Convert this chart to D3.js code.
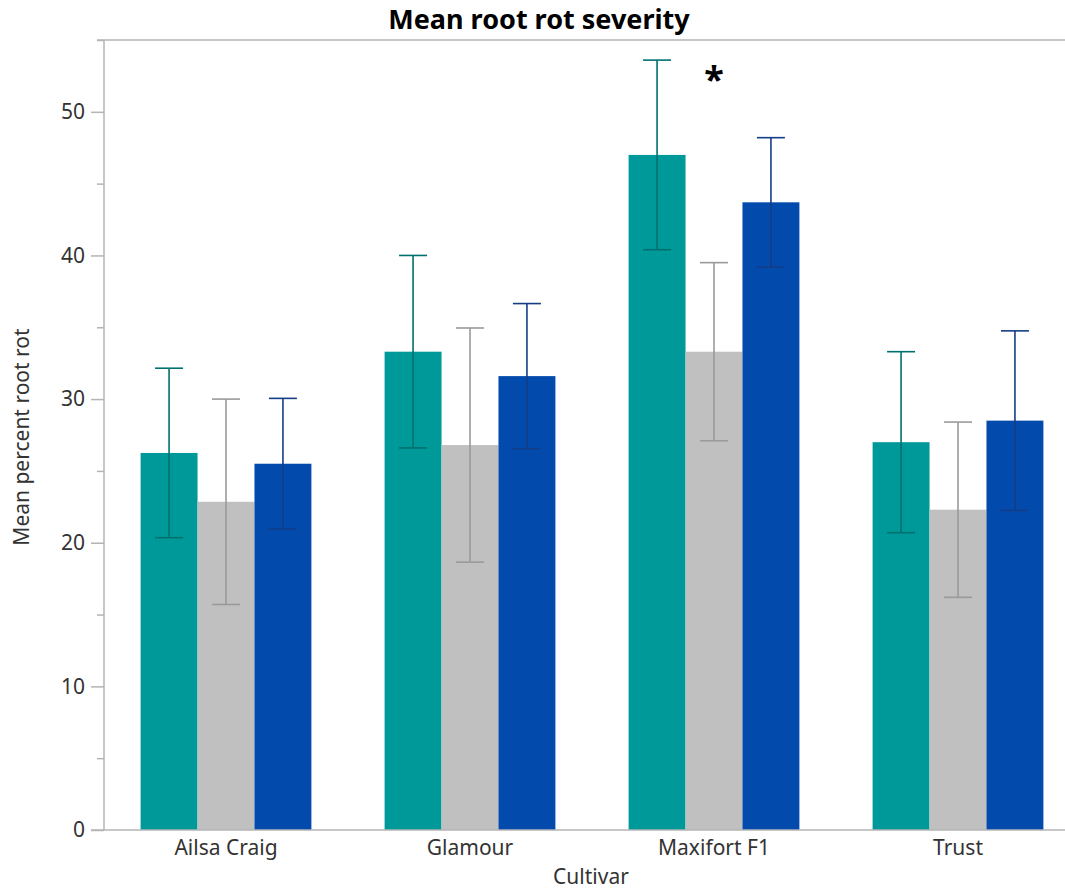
<!DOCTYPE html>
<html>
<head>
<meta charset="utf-8">
<script src="https://cdn.jsdelivr.net/npm/d3@7"></script>
<style>
  body { margin: 0; background: #fff; }
  text { font-family: "Noto Sans", "Open Sans", sans-serif; }
</style>
</head>
<body>
<div id="chart"></div>
<script>
// cultivars and treatments
var cultivars = ['Ailsa Craig', 'Glamour', 'Maxifort F1', 'Trust'];
var treatments = ['t1', 't2', 't3'];

// mean percent root rot per treatment (one value per cultivar)
var mean_t1 = [26.25, 33.3, 47.0, 27.0];
var mean_t2 = [22.85, 26.8, 33.3, 22.3];
var mean_t3 = [25.5, 31.6, 43.7, 28.5];

// error bar half widths
var err_t1 = [5.9, 6.7, 6.6, 6.3];
var err_t2 = [7.15, 8.15, 6.2, 6.1];
var err_t3 = [4.55, 5.05, 4.5, 6.25];

var bar_colors = ['#009999', '#c0c0c0', '#034aad'];
var err_colors = ['#00706f', '#9a9a9a', '#143d86'];

var y_major = [0, 10, 20, 30, 40, 50];
var y_minor = [5, 15, 25, 35, 45, 55];

// marca de significancia
var star_cultivar = 'Maxifort F1';

var means = [mean_t1, mean_t2, mean_t3];
var errs = [err_t1, err_t2, err_t3];

// datos planos para las barras
var data = [];
for (var c = 0; c < cultivars.length; c++) {
	for (var t = 0; t < treatments.length; t++) {
		data.push({cultivar: cultivars[c], treatment: treatments[t], t: t,
			mean: means[t][c], err: errs[t][c]});
	}
}

/* ------------- d3 definitions ---------- */
var width = 1065,
	height = 891;

var p_left = 104, p_right = 1080, p_top = 40, p_bottom = 830;

var x_scale = d3.scaleBand()
	.domain(cultivars)
	.range([p_left, p_right])
	.paddingInner(0.3)
	.paddingOuter(0.15);

var x_inner = d3.scaleBand()
	.domain(treatments)
	.range([0, x_scale.bandwidth()]);

var y_scale = d3.scaleLinear()
	.domain([0, 55])
	.range([p_bottom, p_top]);

var svg = d3.select('#chart')
	.append('svg')
	.attr('width', width)
	.attr('height', height);

// bars
svg.selectAll('rect.bar')
	.data(data)
	.enter()
	.append('rect')
		.attr('class', 'bar')
		.attr('x', function(d) { return x_scale(d.cultivar) + x_inner(d.treatment); })
		.attr('width', x_inner.bandwidth())
		.attr('y', function(d) { return y_scale(d.mean); })
		.attr('height', function(d) { return y_scale(0) - y_scale(d.mean); })
		.attr('fill', function(d) { return bar_colors[d.t]; });

// error bars
var cap = 14;
var eg = svg.selectAll('g.err')
	.data(data)
	.enter()
	.append('g')
		.attr('class', 'err')
		.attr('stroke', function(d) { return err_colors[d.t]; })
		.attr('stroke-width', 1.6);

function cx(d) { return x_scale(d.cultivar) + x_inner(d.treatment) + x_inner.bandwidth() / 2; }

eg.append('line')
	.attr('x1', cx).attr('x2', cx)
	.attr('y1', function(d) { return y_scale(d.mean + d.err); })
	.attr('y2', function(d) { return y_scale(d.mean - d.err); });
eg.append('line')
	.attr('x1', function(d) { return cx(d) - cap; })
	.attr('x2', function(d) { return cx(d) + cap; })
	.attr('y1', function(d) { return y_scale(d.mean + d.err); })
	.attr('y2', function(d) { return y_scale(d.mean + d.err); });
eg.append('line')
	.attr('x1', function(d) { return cx(d) - cap; })
	.attr('x2', function(d) { return cx(d) + cap; })
	.attr('y1', function(d) { return y_scale(d.mean - d.err); })
	.attr('y2', function(d) { return y_scale(d.mean - d.err); });

// axes
var axis_color = '#b4b4b4';

var y_axis = d3.axisLeft(y_scale)
	.tickValues(y_major)
	.tickSize(13)
	.tickPadding(6);

var gy = svg.append('g')
	.attr('transform', 'translate(' + p_left + ',0)')
	.call(y_axis);

svg.append('g')
	.attr('transform', 'translate(' + p_left + ',0)')
	.call(d3.axisLeft(y_scale).tickValues(y_minor).tickSize(7).tickFormat(''))
	.call(function(g) { g.select('.domain').remove(); });

var gx = svg.append('g')
	.attr('transform', 'translate(0,' + p_bottom + ')')
	.call(d3.axisBottom(x_scale).tickSize(0).tickPadding(10));

svg.selectAll('.domain, .tick line')
	.attr('stroke', axis_color)
	.attr('stroke-width', 1.5);
gy.select('.domain').attr('d', 'M0,' + p_top + 'V' + p_bottom);
gx.select('.domain').attr('d', 'M91,0H' + width);

svg.selectAll('.tick text')
	.attr('font-size', 21)
	.attr('fill', '#333')
	.style('font-family', '"Noto Sans", sans-serif');

// top frame line
svg.append('line')
	.attr('x1', p_left - 7).attr('x2', width)
	.attr('y1', p_top).attr('y2', p_top)
	.attr('stroke', axis_color)
	.attr('stroke-width', 1.5);

// title and labels
svg.append('text')
	.attr('x', 539).attr('y', 29)
	.attr('text-anchor', 'middle')
	.attr('font-size', 27)
	.attr('font-weight', 'bold')
	.attr('fill', '#000')
	.text('Mean root rot severity');

svg.append('text')
	.attr('x', 591).attr('y', 884)
	.attr('text-anchor', 'middle')
	.attr('font-size', 21)
	.attr('fill', '#333')
	.text('Cultivar');

svg.append('text')
	.attr('transform', 'translate(29,437) rotate(-90)')
	.attr('text-anchor', 'middle')
	.attr('font-size', 21)
	.attr('fill', '#333')
	.text('Mean percent root rot');

// asterisk
var star_x = x_scale(star_cultivar) + x_scale.bandwidth() / 2;
svg.append('text')
	.attr('x', star_x).attr('y', 92)
	.attr('text-anchor', 'middle')
	.attr('font-size', 36)
	.attr('font-weight', 'bold')
	.attr('fill', '#000')
	.text('*');
/* ------------ end d3 definitions ------------ */
</script>
</body>
</html>
